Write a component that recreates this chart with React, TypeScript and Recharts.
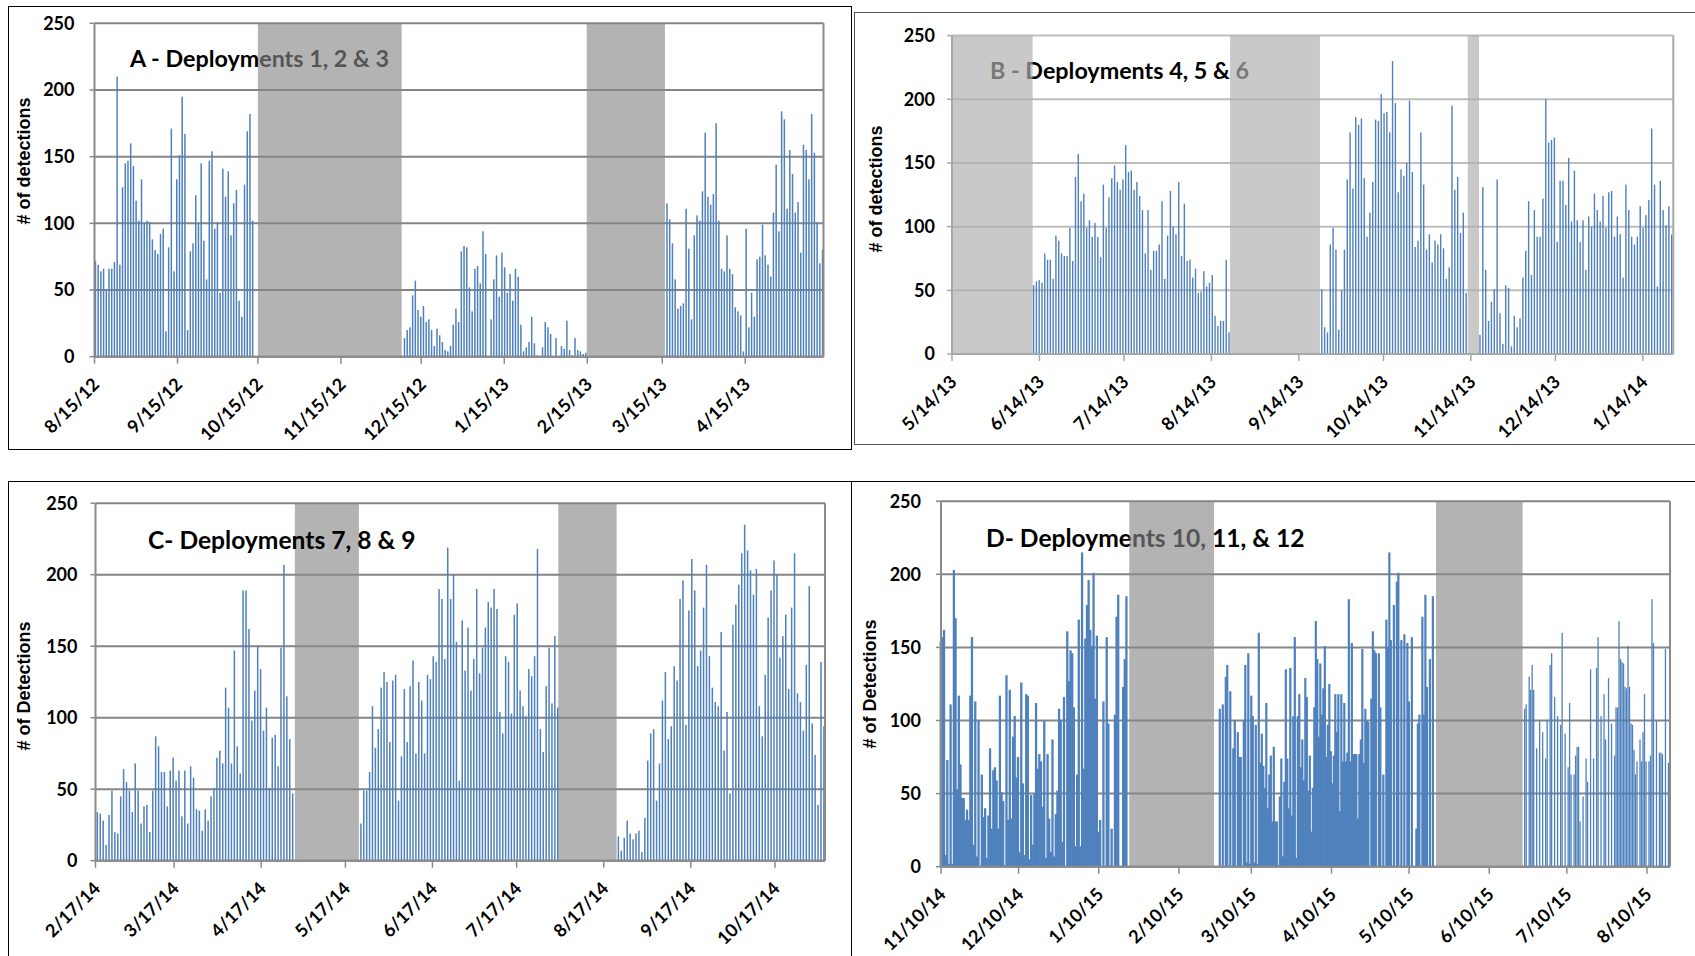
import React from "react";
import {
  Bar,
  CartesianGrid,
  ComposedChart,
  ReferenceArea,
  ReferenceLine,
  XAxis,
  YAxis,
} from "recharts";

const BLUE = "#4f81bd";
const Y_TICKS = [0, 50, 100, 150, 200, 250];

// Panel A, day 0 = 8/15/12
const aTickDays = [0, 31, 61, 92, 122, 153, 184, 212, 243];
const aTickLabels = ["8/15/12", "9/15/12", "10/15/12", "11/15/12", "12/15/12", "1/15/13", "2/15/13", "3/15/13", "4/15/13"];
const aNoData = [[61, 114.7], [183.8, 213]];
const aDep1 = [72, 69, 64, 66, 50, 66, 66, 71, 210, 69, 127, 145, 147, 160, 143, 117, 102, 133, 100, 102, 101, 88, 80, 77, 92, 96, 19, 82, 171, 64, 133, 151, 195, 167, 20, 79, 85, 121, 100, 145, 87, 58, 147, 154, 96, 101, 48, 141, 120, 139, 91, 115, 125, 42, 30, 129, 169, 182, 102];
const aDep2 = [14, 20, 22, 46, 57, 35, 30, 38, 26, 28, 20, 8, 21, 16, 11, 5, 4, 8, 24, 36, 26, 79, 83, 82, 52, 34, 66, 68, 55, 94, 77, 0, 28, 58, 76, 45, 78, 67, 48, 62, 42, 66, 60, 24, 4, 7, 11, 30, 10, 1, 0, 7, 26, 22, 17, 0, 14, 0, 8, 6, 27, 5, 1, 14, 5, 4, 2, 3];
const aDep3 = [115, 103, 85, 58, 36, 38, 40, 111, 81, 28, 91, 106, 102, 124, 168, 120, 114, 122, 175, 102, 66, 64, 91, 66, 62, 37, 34, 31, 4, 96, 22, 48, 30, 73, 75, 99, 76, 69, 60, 108, 144, 94, 184, 178, 111, 155, 137, 108, 116, 78, 159, 155, 133, 182, 153, 101, 70, 80];

// Panel B, day 0 = 5/14/13
const bTickDays = [0, 31, 61, 92, 123, 153, 184, 214, 245];
const bTickLabels = ["5/14/13", "6/14/13", "7/14/13", "8/14/13", "9/14/13", "10/14/13", "11/14/13", "12/14/13", "1/14/14"];
const bNoData = [[0, 28.6], [98.6, 130.5], [182.9, 186.9]];
const bDep4 = [54, 57, 58, 56, 79, 74, 74, 59, 93, 89, 79, 77, 77, 99, 73, 139, 157, 120, 126, 99, 105, 92, 103, 92, 76, 133, 99, 123, 138, 148, 135, 129, 137, 164, 143, 144, 129, 135, 124, 113, 79, 113, 66, 81, 81, 86, 120, 59, 93, 128, 100, 94, 135, 77, 118, 73, 74, 60, 67, 48, 49, 65, 53, 56, 62, 30, 22, 26, 26, 74, 17];
const bDep5 = [51, 21, 17, 86, 99, 82, 19, 50, 82, 137, 174, 130, 186, 180, 185, 138, 92, 111, 135, 184, 183, 204, 189, 190, 174, 230, 197, 127, 145, 140, 150, 199, 143, 84, 89, 174, 133, 82, 94, 72, 89, 86, 94, 83, 59, 68, 195, 129, 139, 95, 111, 48];
const bDep6 = [15, 131, 66, 26, 41, 51, 137, 32, 8, 54, 52, 6, 30, 21, 28, 60, 81, 120, 62, 113, 92, 92, 122, 200, 166, 168, 170, 88, 136, 136, 117, 154, 104, 144, 105, 88, 105, 66, 108, 100, 126, 113, 104, 124, 99, 127, 128, 92, 108, 94, 60, 133, 113, 92, 86, 92, 116, 99, 109, 121, 177, 133, 53, 136, 113, 101, 116, 94];

// Panel C, day 0 = 2/17/14
const cTickDays = [0, 28, 59, 89, 120, 150, 181, 212, 242];
const cTickLabels = ["2/17/14", "3/17/14", "4/17/14", "5/17/14", "6/17/14", "7/17/14", "8/17/14", "9/17/14", "10/17/14"];
const cNoData = [[71, 93.8], [164.8, 185.6]];
const cDep7 = [34, 33, 28, 11, 32, 49, 20, 19, 45, 64, 55, 49, 34, 68, 49, 26, 38, 39, 20, 49, 87, 80, 62, 62, 38, 63, 72, 56, 63, 31, 63, 26, 66, 58, 36, 35, 21, 36, 28, 45, 51, 72, 77, 68, 121, 107, 68, 147, 80, 61, 189, 189, 162, 98, 119, 150, 134, 91, 107, 51, 86, 88, 66, 149, 207, 115, 85, 47];
const cDep8 = [26, 49, 49, 62, 108, 79, 92, 121, 132, 125, 83, 126, 130, 42, 73, 120, 83, 122, 140, 75, 125, 112, 75, 130, 127, 143, 139, 190, 183, 141, 219, 183, 200, 153, 56, 168, 133, 163, 119, 141, 190, 131, 149, 163, 181, 177, 190, 176, 104, 89, 143, 139, 103, 172, 180, 119, 108, 101, 134, 129, 143, 218, 92, 76, 122, 149, 110, 157, 107];
const cDep9 = [17, 7, 16, 28, 19, 15, 19, 21, 6, 30, 70, 89, 92, 42, 68, 112, 132, 85, 94, 136, 126, 183, 196, 95, 175, 211, 189, 136, 147, 177, 207, 143, 121, 111, 108, 160, 77, 104, 47, 165, 179, 193, 215, 235, 217, 203, 186, 204, 108, 87, 130, 170, 189, 210, 200, 142, 157, 172, 120, 177, 215, 117, 111, 91, 137, 192, 96, 74, 39, 139, 94];

// Panel D, day 0 = 11/10/14
const dTickDays = [0, 30, 61, 92, 120, 151, 181, 212, 242, 273];
const dTickLabels = ["11/10/14", "12/10/14", "1/10/15", "2/10/15", "3/10/15", "4/10/15", "5/10/15", "6/10/15", "7/10/15", "8/10/15"];
const dNoData = [[72.8, 105.6], [191.4, 224.9]];
const dDep10 = [154, 157, 162, 8, 73, 2, 111, 2, 203, 170, 53, 117, 70, 47, 47, 32, 39, 32, 117, 157, 15, 113, 7, 100, 0, 63, 34, 40, 6, 35, 81, 26, 66, 68, 59, 26, 117, 51, 45, 1, 131, 32, 121, 33, 89, 103, 61, 75, 10, 126, 57, 8, 118, 117, 5, 49, 15, 50, 112, 67, 77, 72, 41, 100, 6, 77, 33, 10, 87, 7, 36, 52, 108, 100, 17, 116, 0, 161, 127, 148, 146, 109, 14, 63, 169, 14, 215, 67, 156, 179, 196, 162, 151, 201, 115, 158, 24, 32, 0, 113, 0, 157, 98, 0, 26, 0, 104, 171, 186, 0, 0, 123, 142, 185];
const dDep11 = [108, 0, 111, 0, 130, 138, 0, 120, 0, 81, 100, 0, 92, 75, 75, 0, 100, 138, 3, 146, 2, 117, 103, 3, 97, 2, 160, 71, 91, 69, 54, 112, 40, 63, 76, 31, 82, 31, 31, 1, 48, 74, 7, 58, 135, 74, 40, 136, 35, 103, 157, 6, 103, 118, 68, 87, 59, 129, 116, 52, 76, 24, 54, 109, 168, 142, 89, 139, 104, 122, 151, 75, 97, 125, 79, 57, 76, 118, 92, 118, 38, 118, 72, 112, 72, 78, 183, 72, 153, 77, 77, 77, 33, 77, 87, 149, 71, 108, 100, 99, 0, 115, 161, 148, 146, 0, 146, 109, 0, 63, 0, 169, 150, 215, 155, 0, 179, 0, 195, 201, 0, 155, 0, 159, 0, 153, 113, 0, 157, 0, 0, 26, 98, 104, 0, 171, 104, 186, 123, 0, 142, 0, 185];
const dDep12 = [108, 111, 0, 130, 121, 138, 121, 0, 81, 0, 100, 0, 92, 0, 74, 100, 0, 138, 146, 0, 116, 0, 103, 0, 97, 160, 0, 91, 0, 68, 112, 63, 0, 63, 76, 82, 82, 31, 0, 48, 0, 74, 58, 0, 135, 0, 74, 0, 136, 157, 0, 103, 0, 118, 87, 0, 129, 0, 98, 0, 76, 109, 109, 168, 142, 140, 139, 123, 122, 151, 123, 98, 97, 80, 63, 72, 0, 87, 72, 92, 118, 72, 0, 72, 76, 183, 153, 0, 100, 0, 78, 78, 77, 0, 149, 0, 71];

type Seg = { from: number; to: number; values: number[]; w: number };

// spread each deployment's readings evenly between its first and last day
function toRows(segs: Seg[]) {
  const rows: { day: number; n: number; w: number }[] = [];
  segs.forEach(({ from, to, values, w }) => {
    const step = (to - from) / (values.length - 1);
    values.forEach((n, i) => rows.push({ day: from + i * step, n, w }));
  });
  return rows;
}

// recharts caps barSize at 0.9 * the data spacing; draw the rect ourselves
// so the dense deployments keep their solid look
function BarLine(props: any) {
  const { x, y, width, height, fill, payload } = props;
  if (!height || height <= 0) return <g />;
  const w = payload.w;
  const cx = x + width / 2;
  return <rect x={cx - w / 2} y={y} width={w} height={height} fill={fill} />;
}

function DateTick(props: any) {
  const { x, y, payload, days, labels } = props;
  const i = days.findIndex((d: number) => Math.abs(d - payload.value) < 0.01);
  const ax = x + 6;
  const ay = y + 22;
  return (
    <text
      x={ax}
      y={ay}
      transform={`rotate(-45 ${ax} ${ay})`}
      textAnchor="end"
      fontFamily="Lato"
      fontWeight={700}
      fontSize={18}
      fill="#000"
    >
      {labels[i]}
    </text>
  );
}

type PanelProps = {
  left: number;
  top: number;
  width: number;
  height: number;
  plot: { l: number; t: number; r: number; b: number };
  maxDay: number;
  tickDays: number[];
  tickLabels: string[];
  noData: number[][];
  segs: Seg[];
  shade: string;
  shadeOpacity: number;
  grid: string;
  axis: string;
  yGap: number;
};

function Panel(p: PanelProps) {
  const rows = toRows(p.segs);
  return (
    <div style={{ position: "absolute", left: p.left, top: p.top, zIndex: 1 }}>
      <ComposedChart
        width={p.width}
        height={p.height}
        data={rows}
        margin={{ top: p.plot.t - p.top, right: p.left + p.width - p.plot.r, bottom: 0, left: 0 }}
      >
        <CartesianGrid vertical={false} stroke={p.grid} strokeWidth={2} />
        {p.noData.map(([x1, x2], i) => (
          <ReferenceArea
            key={i}
            x1={x1}
            x2={x2}
            y1={0}
            y2={250}
            fill={p.shade}
            fillOpacity={p.shadeOpacity}
            stroke="none"
          />
        ))}
        <XAxis
          type="number"
          dataKey="day"
          domain={[0, p.maxDay]}
          ticks={p.tickDays}
          interval={0}
          height={p.top + p.height - p.plot.b}
          tickSize={7}
          tickMargin={0}
          tick={<DateTick days={p.tickDays} labels={p.tickLabels} />}
          axisLine={{ stroke: p.axis, strokeWidth: 2 }}
          tickLine={{ stroke: p.axis, strokeWidth: 1.5 }}
        />
        <YAxis
          type="number"
          domain={[0, 250]}
          ticks={Y_TICKS}
          interval={0}
          width={p.plot.l - p.left}
          tickSize={5}
          tickMargin={p.yGap}
          tick={{ fontFamily: "Lato", fontWeight: 700, fontSize: 18, fill: "#000" }}
          axisLine={{ stroke: p.axis, strokeWidth: 2 }}
          tickLine={{ stroke: p.axis, strokeWidth: 1.5 }}
        />
        <ReferenceLine x={p.maxDay} stroke={p.axis} strokeWidth={2} />
        <Bar dataKey="n" fill={BLUE} barSize={1} shape={BarLine} isAnimationActive={false} />
      </ComposedChart>
    </div>
  );
}

const titleStyle: React.CSSProperties = {
  position: "absolute",
  fontFamily: "Lato",
  fontWeight: 700,
  color: "#000",
  whiteSpace: "nowrap",
};

const yTitleStyle: React.CSSProperties = {
  position: "absolute",
  fontFamily: "Liberation Sans",
  fontWeight: 700,
  fontSize: 18,
  lineHeight: "18px",
  color: "#000",
  whiteSpace: "nowrap",
  transform: "translate(-50%, -50%) rotate(-90deg)",
};

export default function App() {
  return (
    <div style={{ position: "absolute", left: 0, top: 0, width: 1695, height: 956, background: "#fff", overflow: "hidden" }}>
      {/* frames */}
      <div style={{ position: "absolute", left: 8, top: 6, width: 842, height: 442, border: "1.5px solid #000" }} />
      <div style={{ position: "absolute", left: 854, top: 12, width: 850, height: 431, border: "1.5px solid #555" }} />
      <div style={{ position: "absolute", left: 8, top: 481, width: 842, height: 500, border: "1.5px solid #000" }} />
      <div style={{ position: "absolute", left: 851, top: 481, width: 860, height: 500, borderLeft: "1.5px solid #000", borderTop: "1.5px solid #000" }} />

      {/* titles (A, B, D sit under the shaded gaps) */}
      <div style={{ ...titleStyle, fontSize: 23.3, lineHeight: "23px", left: 130, top: 47 }}>A - Deployments 1, 2 &amp; 3</div>
      <div style={{ ...titleStyle, fontSize: 23.3, lineHeight: "23px", left: 990, top: 59 }}>B - Deployments 4, 5 &amp; 6</div>
      <div style={{ ...titleStyle, fontSize: 24.6, lineHeight: "24px", left: 148, top: 528, zIndex: 2 }}>C- Deployments 7, 8 &amp; 9</div>
      <div style={{ ...titleStyle, fontSize: 24.6, lineHeight: "24px", left: 986, top: 526 }}>D- Deployments 10, 11, &amp; 12</div>

      <div style={{ ...yTitleStyle, left: 24, top: 161 }}># of detections</div>
      <div style={{ ...yTitleStyle, left: 876, top: 189 }}># of detections</div>
      <div style={{ ...yTitleStyle, left: 24, top: 686 }}># of Detections</div>
      <div style={{ ...yTitleStyle, left: 870, top: 684 }}># of Detections</div>

      <Panel
        left={10}
        top={8}
        width={840}
        height={440}
        plot={{ l: 94.5, t: 23.3, r: 823.5, b: 356.7 }}
        maxDay={272.2}
        tickDays={aTickDays}
        tickLabels={aTickLabels}
        noData={aNoData}
        segs={[
          { from: 0.3, to: 59, values: aDep1, w: 1.5 },
          { from: 115.7, to: 183.4, values: aDep2, w: 1.5 },
          { from: 213.7, to: 271.8, values: aDep3, w: 1.5 },
        ]}
        shade="#878787"
        shadeOpacity={0.63}
        grid="#858585"
        axis="#8a8a8a"
        yGap={15}
      />
      <Panel
        left={856}
        top={15}
        width={837}
        height={428}
        plot={{ l: 952, t: 35.6, r: 1673.3, b: 354 }}
        maxDay={255.8}
        tickDays={bTickDays}
        tickLabels={bTickLabels}
        noData={bNoData}
        segs={[
          { from: 28.9, to: 98.2, values: bDep4, w: 1.4 },
          { from: 131.1, to: 182.3, values: bDep5, w: 1.4 },
          { from: 187.2, to: 255.2, values: bDep6, w: 1.4 },
        ]}
        shade="#afafaf"
        shadeOpacity={0.68}
        grid="#bdbdbd"
        axis="#a8a8a8"
        yGap={12}
      />
      <Panel
        left={11}
        top={484}
        width={839}
        height={470}
        plot={{ l: 95.5, t: 503.2, r: 825, b: 860.7 }}
        maxDay={259.8}
        tickDays={cTickDays}
        tickLabels={cTickLabels}
        noData={cNoData}
        segs={[
          { from: 0.64, to: 70.2, values: cDep7, w: 1.5 },
          { from: 94.5, to: 164.6, values: cDep8, w: 1.5 },
          { from: 186.2, to: 259.4, values: cDep9, w: 1.5 },
        ]}
        shade="#878787"
        shadeOpacity={0.63}
        grid="#858585"
        axis="#8a8a8a"
        yGap={13}
      />
      <Panel
        left={854}
        top={484}
        width={839}
        height={470}
        plot={{ l: 941, t: 501.2, r: 1670, b: 866.7 }}
        maxDay={281.9}
        tickDays={dTickDays}
        tickLabels={dTickLabels}
        noData={dNoData}
        segs={[
          { from: 0, to: 71.8, values: dDep10, w: 2.3 },
          { from: 107.9, to: 190.3, values: dDep11, w: 2.2 },
          { from: 225.8, to: 281.4, values: dDep12, w: 1.3 },
        ]}
        shade="#878787"
        shadeOpacity={0.63}
        grid="#858585"
        axis="#8a8a8a"
        yGap={15}
      />
    </div>
  );
}
